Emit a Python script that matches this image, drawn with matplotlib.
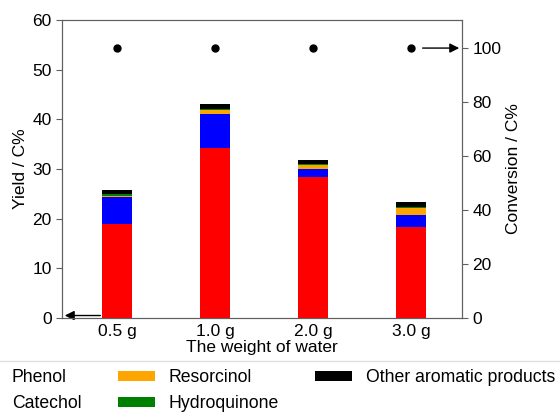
import numpy as np
import matplotlib.pyplot as plt

plt.rcParams['font.family'] = ['Liberation Sans', 'DejaVu Sans']

# data
weights = ['0.5 g', '1.0 g', '2.0 g', '3.0 g']
phenol = [19.0, 34.2, 28.4, 18.4]
catechol = [5.4, 6.8, 1.6, 2.4]
resorcinol = [0.1, 0.9, 0.9, 1.4]
hydroquinone = [0.4, 0.1, 0.1, 0.2]
other = [0.9, 1.0, 0.9, 0.9]
conversion = [100, 100, 100, 100]

series = [
    ('Phenol', phenol, '#ff0000'),
    ('Catechol', catechol, '#0000ff'),
    ('Resorcinol', resorcinol, '#ffa500'),
    ('Hydroquinone', hydroquinone, '#008000'),
    ('Other aromatic products', other, '#000000'),
]

fig = plt.figure(figsize=(5.6, 4.16), dpi=100)
ax = fig.add_axes([62 / 560, 98 / 416, 400 / 560, 298 / 416])
ax2 = ax.twinx()

x = np.arange(len(weights))
bottom = np.zeros(len(weights))
for name, vals, col in series:
    ax.bar(x, vals, 0.3, bottom=bottom, color=col, label=name)
    bottom += np.array(vals)

ax2.plot(x, conversion, 'o', color='black', markersize=5)

ax.set_xlim(-0.56, 3.52)
ax.set_ylim(0, 60)
ax2.set_ylim(0, 110.4)
ax.set_yticks(range(0, 61, 10))
ax2.set_yticks(range(0, 101, 20))
ax.set_xticks(x)
ax.set_xticklabels(weights)

spine_col = '#606060'
for a in (ax, ax2):
    for s in a.spines.values():
        s.set_color(spine_col)
    a.tick_params(labelsize=12.5, color=spine_col, length=4)
ax.tick_params(axis='x', length=0, pad=4)

ax.set_ylabel('Yield / C%', fontsize=12.5, labelpad=3)
ax2.set_ylabel('Conversion / C%', fontsize=12.5, labelpad=3)
ax.set_xlabel('The weight of water', fontsize=12.5, labelpad=1)

# arrows pointing to the axes
ax.annotate('', xy=(-0.56, 0.5), xytext=(-0.14, 0.5),
            arrowprops=dict(arrowstyle='-|>', color='black', lw=1, mutation_scale=14))
ax2.annotate('', xy=(3.52, 100), xytext=(3.09, 100),
             arrowprops=dict(arrowstyle='-|>', color='black', lw=1, mutation_scale=14))

handles, labels = ax.get_legend_handles_labels()
leg = fig.legend(handles, labels, ncol=3, loc='upper left',
                 bbox_to_anchor=(-0.100, 0.153), fontsize=12.7,
                 frameon=True, fancybox=False, edgecolor='#d8d8d8',
                 handlelength=2.1, handleheight=0.55, handletextpad=0.8,
                 columnspacing=2.05, labelspacing=0.52, borderpad=0.45)
leg.get_frame().set_linewidth(1)

fig.savefig('out.png', dpi=100)
